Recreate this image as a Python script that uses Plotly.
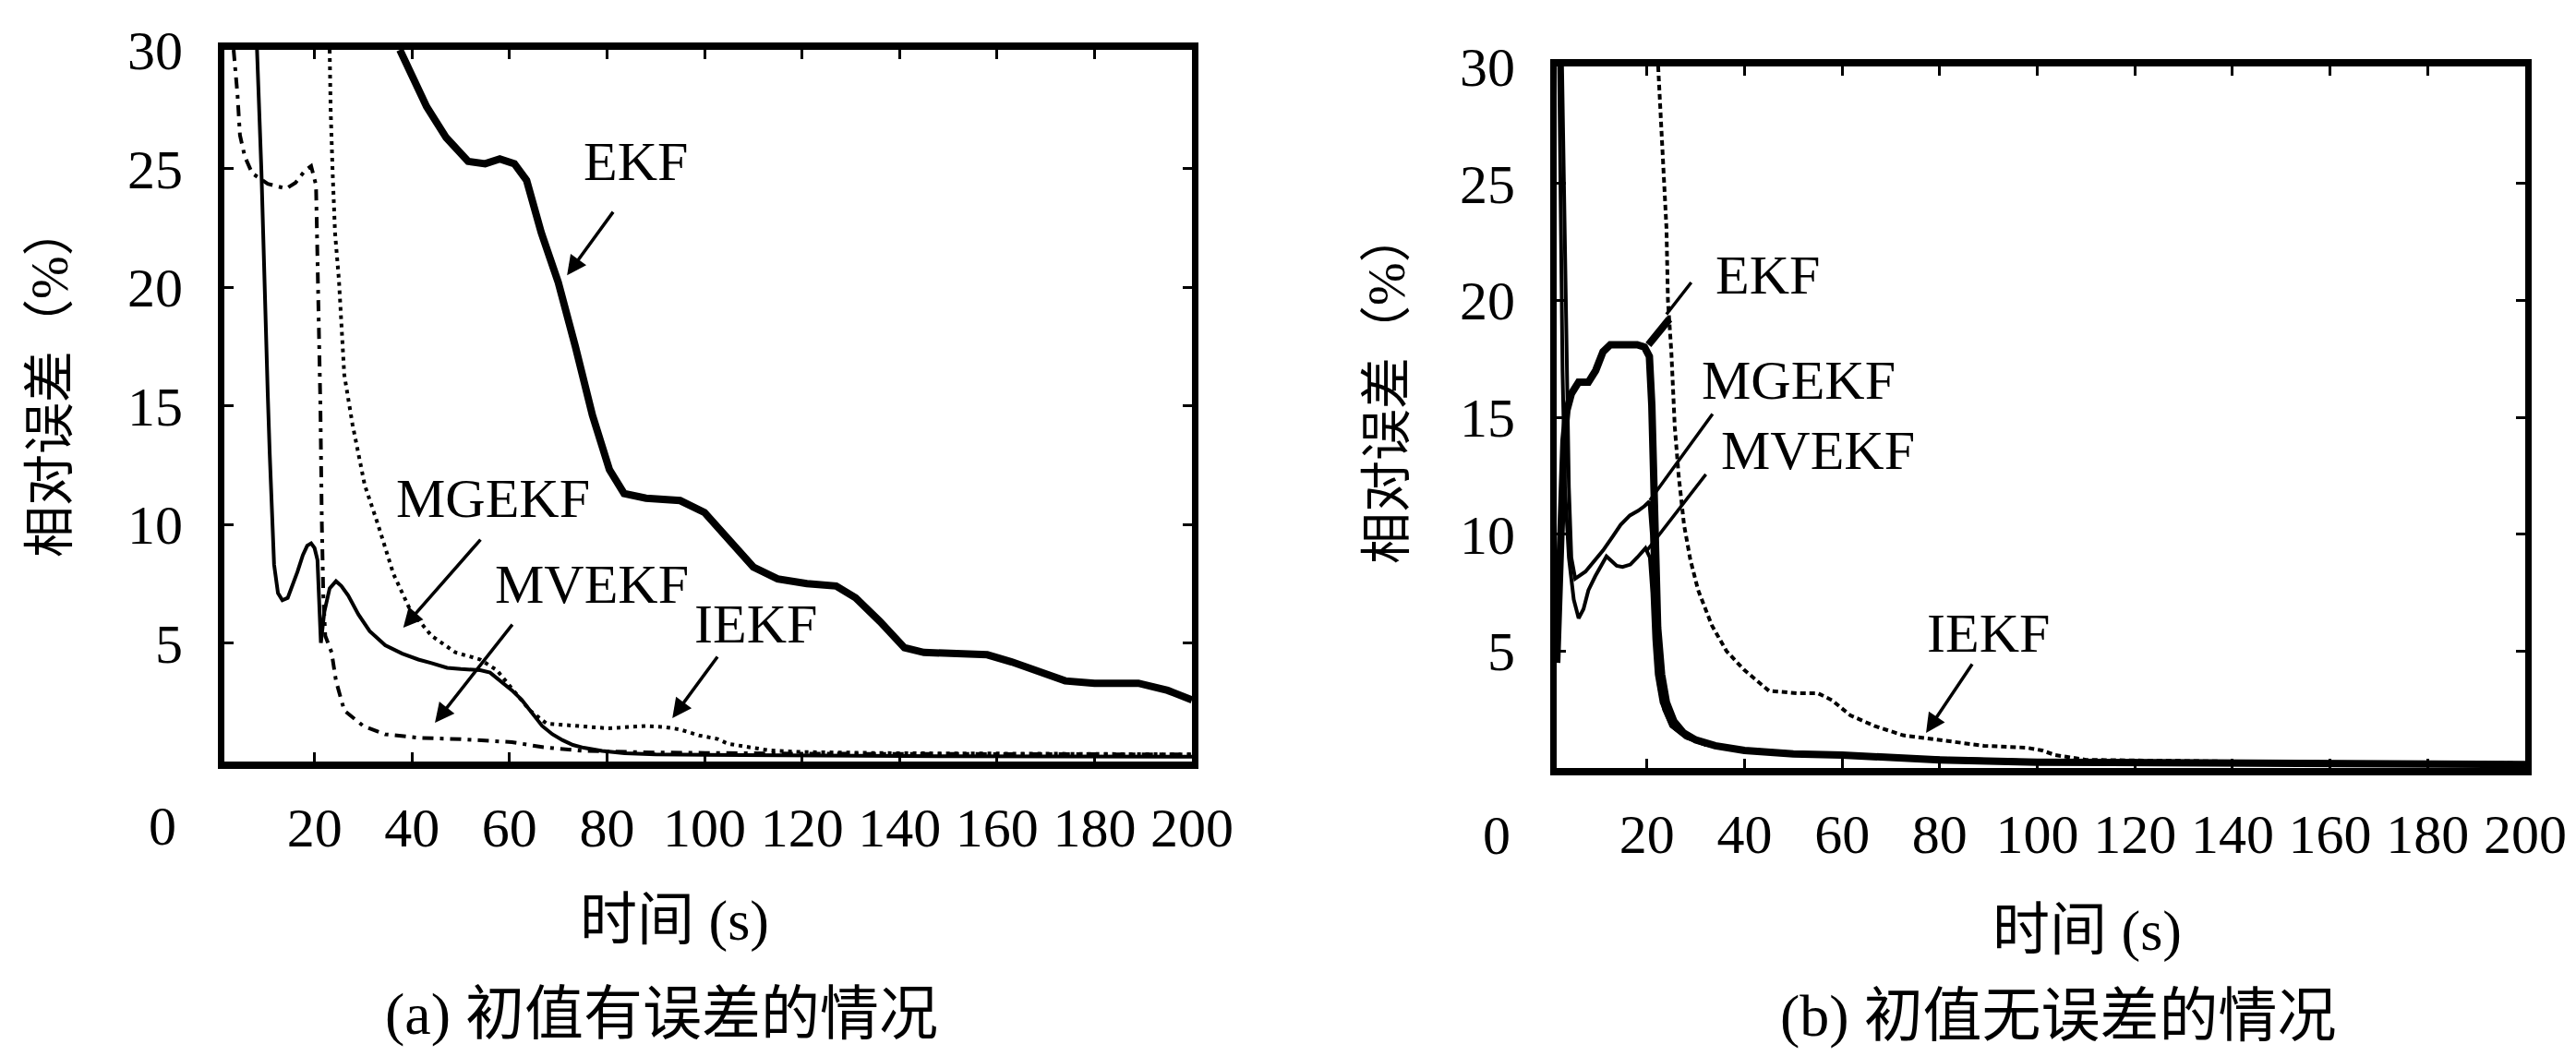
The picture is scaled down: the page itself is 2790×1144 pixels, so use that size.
import plotly.graph_objects as go

W, H = 2790, 1144

# ---------------- data : panel (a) ----------------
ekf_a_x = [37.5, 43, 47, 51.5, 55, 58, 61, 63.5, 66.5, 70, 73.5, 77, 80.5, 83.5, 88, 95, 100, 105, 110, 115,
           121, 127, 131, 136, 141, 145, 158, 163, 168, 174, 180, 189, 195, 200]
ekf_a_y = [30, 27.6, 26.3, 25.3, 25.2, 25.4, 25.2, 24.5, 22.3, 20.2, 17.5, 14.6, 12.3, 11.3, 11.1, 11.0, 10.5,
           9.4, 8.2, 7.7, 7.5, 7.4, 6.9, 5.9, 4.8, 4.6, 4.5, 4.2, 3.8, 3.4, 3.3, 3.3, 3.0, 2.6]

mgekf_a_x = [8.2, 8.7, 9.1, 9.5, 9.8, 10.0, 10.4, 10.8, 11.2, 11.7, 12.5, 13.4, 14.5, 15.5, 16.5, 17.6, 18.5,
             19.3, 20.0, 20.6, 21.0, 21.3, 22.0, 23.1, 24.4, 25.5, 26.9, 29, 31.3, 34.5, 38, 41.3, 44, 47.2,
             50, 54, 56, 58.2, 60.5, 62.5, 64.5, 66.7, 68.8, 70.9, 73, 75.2, 79, 83.6, 90, 100, 120, 150, 200]
mgekf_a_y = [30, 27.5, 24.9, 22, 19.7, 17.4, 15.5, 13, 10.5, 8.3, 7.1, 6.8, 6.9, 7.4, 8.0, 8.7, 9.1, 9.2, 9.0,
             8.5, 6.5, 5.0, 6.3, 7.3, 7.6, 7.4, 7.0, 6.2, 5.5, 4.9, 4.55, 4.3, 4.15, 3.95, 3.9, 3.85, 3.75,
             3.4, 3.0, 2.6, 2.05, 1.5, 1.15, 0.9, 0.7, 0.58, 0.45, 0.35, 0.3, 0.28, 0.25, 0.22, 0.2]

mvekf_a_x = [3.4, 4.2, 4.7, 5.7, 7.2, 10.4, 14.2, 16.1, 18.0, 19.3, 20.3, 20.8, 21.2, 21.5, 21.8, 22.2, 23.5,
             24.4, 26.1, 28.2, 30, 34.5, 37, 41.3, 50, 55, 60.5, 64, 67, 75, 90, 120, 160, 200]
mvekf_a_y = [30, 28.1, 26.4, 25.5, 24.8, 24.35, 24.15, 24.4, 24.9, 25.1, 24.3, 20, 15, 10, 7, 5.3, 4.6, 3.4,
             2.15, 1.8, 1.5, 1.15, 1.1, 1.0, 0.94, 0.88, 0.82, 0.7, 0.6, 0.45, 0.38, 0.33, 0.3, 0.3]

iekf_a_x = [23.1, 23.3, 23.7, 24.2, 25.0, 26.1, 27.8, 30.3, 33, 36.2, 39.6, 44, 48.9, 54, 57.4, 60.8, 64.2,
            67.6, 73.5, 80.3, 87.9, 92, 95, 98.9, 102.7, 104.8, 107.8, 113.3, 120, 140, 170, 200]
iekf_a_y = [30, 27.5, 24.9, 22.3, 20.3, 16.3, 14.2, 11.65, 10, 7.9, 6.4, 5.3, 4.6, 4.3, 3.85, 3.0, 2.15, 1.6,
            1.5, 1.4, 1.5, 1.45, 1.35, 1.1, 0.95, 0.75, 0.65, 0.47, 0.4, 0.35, 0.33, 0.3]

# ---------------- data : panel (b) ----------------
ekf_b_x = [1.5, 2.2, 3, 3.6, 4.5, 6, 8, 9.5, 11, 12.5, 14, 16, 18, 19.5, 20.5, 21, 21.4, 21.8, 22.2, 23, 24,
           25.5, 27.5, 30, 34, 40, 50, 60, 70, 80, 100, 130, 160, 200, None, 20.3, 22, 23.5, 24.6]
ekf_b_y = [4.5, 10, 14, 15.3, 16.0, 16.5, 16.5, 17.0, 17.8, 18.1, 18.1, 18.1, 18.1, 18.0, 17.6, 15.5, 11.5, 8,
           6, 4, 2.8, 2.0, 1.5, 1.2, 0.95, 0.75, 0.6, 0.55, 0.45, 0.35, 0.25, 0.2, 0.15, 0.15, None,
           18.1, 18.5, 18.9, 19.2]

mgekf_b_x = [2.6, 3, 3.5, 4, 4.5, 5.3, 7.4, 9, 11, 13, 14.6, 16.5, 18.2, 19.5, 20.5, 21, 21.4, 21.8, 22.5,
             23.5, 25, 28, 32, 40, 50, 60, 80, 100, 150, 200]
mgekf_b_y = [30, 25, 18, 12, 9, 8.1, 8.4, 8.8, 9.3, 9.9, 10.4, 10.8, 11.0, 11.2, 11.4, 10, 7, 5, 3.5, 2.5,
             1.8, 1.3, 1.0, 0.8, 0.65, 0.55, 0.4, 0.3, 0.2, 0.15]

mvekf_b_x = [2.0, 2.3, 2.7, 3.2, 4, 5, 6, 7, 8, 9.4, 10.5, 11.7, 13, 13.8, 15, 16.6, 18, 19.7, 20.6, 21.1,
             21.5, 22, 23, 25, 28, 32, 40, 50, 60, 80, 100, 150, 200]
mvekf_b_y = [30, 24, 17, 12, 9, 7.2, 6.4, 6.8, 7.6, 8.2, 8.6, 9.05, 8.8, 8.65, 8.6, 8.7, 9.0, 9.4, 9.0, 7.5,
             5.5, 4, 2.8, 1.8, 1.3, 1.0, 0.8, 0.65, 0.55, 0.4, 0.3, 0.2, 0.15]

iekf_b_x = [22.3, 22.8, 23.3, 24, 24.3, 25, 25.7, 26.5, 27.6, 28.9, 30.5, 33.3, 36.3, 39.9, 45, 50.7, 55,
            57.9, 61.7, 66.6, 72.5, 79.7, 89.1, 97.8, 101, 103.7, 110, 150, 200]
iekf_b_y = [30, 28, 26.3, 23.1, 20, 17.8, 14.6, 12.5, 10.4, 8.9, 7.6, 6.1, 5.0, 4.2, 3.3, 3.2, 3.2, 2.9,
            2.25, 1.8, 1.4, 1.2, 0.95, 0.87, 0.75, 0.55, 0.35, 0.25, 0.2]

x_ticks = [20, 40, 60, 80, 100, 120, 140, 160, 180, 200]
x_tick_text = [str(v) for v in x_ticks]
y_ticks = [5, 10, 15, 20, 25, 30]
y_tick_text = [str(v) for v in y_ticks]

series_names = ["EKF", "MGEKF", "MVEKF", "IEKF"]
x_title = "时间 (s)"
y_title = "相对误差（%）"
captions = ["(a) 初值有误差的情况", "(b) 初值无误差的情况"]

# ---------------- figure ----------------
FONT = "Liberation Serif, Times New Roman, Noto Sans CJK SC"
fig = go.Figure()


def add(xs, ys, ax, width, dash):
    fig.add_trace(go.Scatter(
        x=xs, y=ys, mode="lines", xaxis="x" + ax, yaxis="y" + ax,
        line=dict(color="black", width=width, dash=dash),
        showlegend=False, hoverinfo="skip", connectgaps=False))


add(ekf_a_x, ekf_a_y, "", 8, "solid")
add(mgekf_a_x, mgekf_a_y, "", 4, "solid")
add(mvekf_a_x, mvekf_a_y, "", 4, "12px,7px,4px,7px")
add(iekf_a_x, iekf_a_y, "", 4, "4px,5px")

add(ekf_b_x, ekf_b_y, "2", 8, "solid")
add(mgekf_b_x, mgekf_b_y, "2", 4, "solid")
add(mvekf_b_x, mvekf_b_y, "2", 4, "solid")
add(iekf_b_x, iekf_b_y, "2", 4, "6px,4px")


def xax(domain):
    return dict(domain=domain, range=[1.5, 200], tickmode="array", tickvals=x_ticks, ticktext=x_tick_text,
                ticks="inside", ticklen=10, tickwidth=3, tickcolor="black", showline=True, linewidth=8,
                linecolor="black", mirror="ticks", showgrid=False, zeroline=False, automargin=False,
                tickfont=dict(family=FONT, size=60, color="black"), ticklabelstandoff=12, fixedrange=True)


def yax(domain):
    return dict(domain=domain, range=[0, 30], tickmode="array", tickvals=y_ticks, ticktext=y_tick_text,
                ticks="inside", ticklen=10, tickwidth=3, tickcolor="black", showline=True, linewidth=7,
                linecolor="black", mirror="ticks", showgrid=False, zeroline=False, automargin=False,
                tickfont=dict(family=FONT, size=60, color="black"), ticklabelstandoff=26, fixedrange=True)


xa1 = xax([243 / W, 1291 / W]); xa1["anchor"] = "y"
ya1 = yax([1 - 825 / H, 1 - 54 / H]); ya1["anchor"] = "x"
xa2 = xax([1686 / W, 2735 / W]); xa2["anchor"] = "y2"
ya2 = yax([1 - 832 / H, 1 - 72 / H]); ya2["anchor"] = "x2"

ann = []


def ptext(px, py, text, size=60, angle=0):
    ann.append(dict(xref="paper", yref="paper", x=px / W, y=1 - py / H, text=text, showarrow=False,
                    xanchor="center", yanchor="middle", textangle=angle,
                    font=dict(family=FONT, size=size, color="black")))


def arrow(ax_id, x, y, dx, dy, head=True):
    ann.append(dict(xref="x" + ax_id, yref="y" + ax_id, x=x, y=y, ax=dx, ay=dy, axref="pixel", ayref="pixel",
                    text="", showarrow=True, arrowhead=2 if head else 0, arrowsize=1.2, arrowwidth=3.5,
                    arrowcolor="black", standoff=0))


# panel (a) labels
ptext(688, 175, series_names[0])
ptext(534, 540, series_names[1])
ptext(641, 633, series_names[2])
ptext(819, 676, series_names[3])
arrow("", 71.8, 20.5, 51, -70)
arrow("", 38.2, 5.64, 85, -97)
arrow("", 44.7, 1.63, 85, -108)
arrow("", 93.4, 1.83, 50, -68)

# panel (b) labels
ptext(1914, 298, series_names[0])
ptext(1948, 412, series_names[1])
ptext(1969, 488, series_names[2])
ptext(2153, 686, series_names[3])
arrow("2", 24.0, 19.4, 28, -36, head=False)
arrow("2", 20.6, 11.45, 69, -95, head=False)
arrow("2", 20.0, 9.3, 65, -84, head=False)
arrow("2", 77.2, 1.5, 51, -76, head=True)

# origin "0" labels
ptext(176, 895, "0")
ptext(1621, 905, "0")

# axis titles
ptext(730, 997, x_title, size=62)
ptext(2260, 1008, x_title, size=62)
ptext(54, 413, y_title, size=56, angle=-90)
ptext(1502, 420, y_title, size=56, angle=-90)

# captions
ptext(716, 1098, captions[0], size=64)
ptext(2229, 1100, captions[1], size=64)

fig.update_layout(
    width=W, height=H, margin=dict(l=0, r=0, t=0, b=0),
    paper_bgcolor="white", plot_bgcolor="white",
    xaxis=xa1, yaxis=ya1, xaxis2=xa2, yaxis2=ya2,
    annotations=ann, showlegend=False,
)

fig.write_html("out.html", config={"displayModeBar": False},
               post_script="document.body.style.margin='0';document.body.style.overflow='hidden';")
